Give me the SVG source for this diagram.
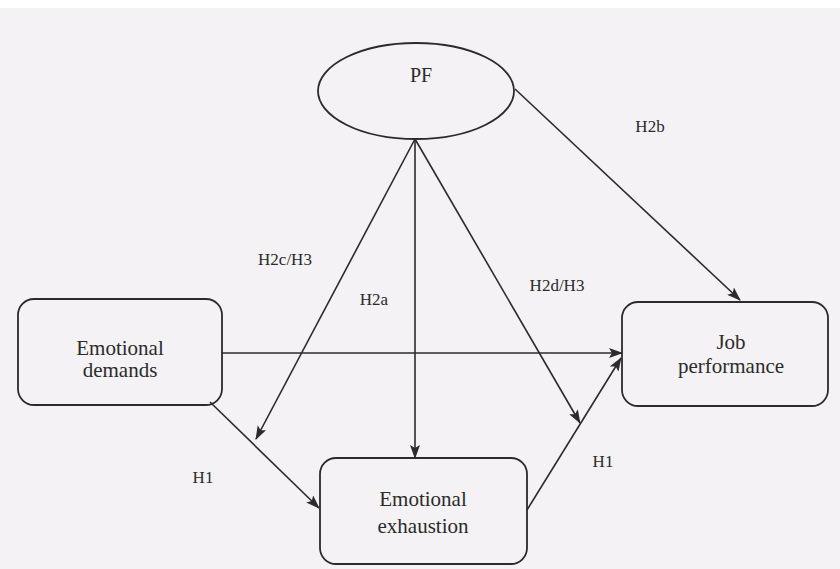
<svg xmlns="http://www.w3.org/2000/svg" width="840" height="569" viewBox="0 0 840 569">
  <style>
    .node { fill: none; stroke: #2b2b2b; stroke-width: 1.8; }
    .edge { fill: none; stroke: #2b2b2b; stroke-width: 1.6; marker-end: url(#arrow); }
    .t { font-family: "Liberation Serif", "Times New Roman", serif; fill: #2b2b2b; text-anchor: middle; }
    .nt { font-size: 21px; }
    .lbl { font-size: 17px; }
  </style>
  <defs>
    <marker id="arrow" markerUnits="userSpaceOnUse" markerWidth="14" markerHeight="10" refX="13" refY="5" orient="auto">
      <path d="M0,0 L14,5 L0,10 L3,5 z" fill="#2b2b2b"/>
    </marker>
  </defs>
  <rect x="0" y="0" width="840" height="569" fill="#ffffff"/>
  <rect x="0" y="8" width="840" height="561" fill="#f4f2f4"/>

  <g id="connectors">
    <line class="edge" x1="515" y1="89" x2="740" y2="300"/>
    <line class="edge" x1="415" y1="139" x2="256" y2="439"/>
    <line class="edge" x1="415" y1="139" x2="415" y2="458"/>
    <line class="edge" x1="415" y1="139" x2="580" y2="423"/>
    <line class="edge" x1="222" y1="353" x2="622" y2="353"/>
    <line class="edge" x1="210" y1="402" x2="319" y2="508"/>
    <line class="edge" x1="527" y1="510" x2="621" y2="358"/>
  </g>

  <g id="labels">
    <text class="t lbl" x="650" y="132">H2b</text>
    <text class="t lbl" x="285" y="265">H2c/H3</text>
    <text class="t lbl" x="374" y="305">H2a</text>
    <text class="t lbl" x="557" y="291">H2d/H3</text>
    <text class="t lbl" x="203" y="483">H1</text>
    <text class="t lbl" x="603" y="467">H1</text>
  </g>

  <g id="pf">
    <ellipse class="node" cx="416" cy="91" rx="98" ry="48"/>
    <text class="t" font-size="20" x="421" y="82">PF</text>
  </g>

  <g id="emotional-demands">
    <rect class="node" x="18" y="299" width="204" height="106" rx="16"/>
    <text class="t nt" x="120" y="355">Emotional</text>
    <text class="t nt" x="120" y="377">demands</text>
  </g>

  <g id="job-performance">
    <rect class="node" x="622" y="302" width="206" height="104" rx="16"/>
    <text class="t nt" x="731" y="349">Job</text>
    <text class="t nt" x="731" y="373">performance</text>
  </g>

  <g id="emotional-exhaustion">
    <rect class="node" x="320" y="458" width="207" height="106" rx="16"/>
    <text class="t nt" x="423" y="506">Emotional</text>
    <text class="t nt" x="423" y="533">exhaustion</text>
  </g>
</svg>
